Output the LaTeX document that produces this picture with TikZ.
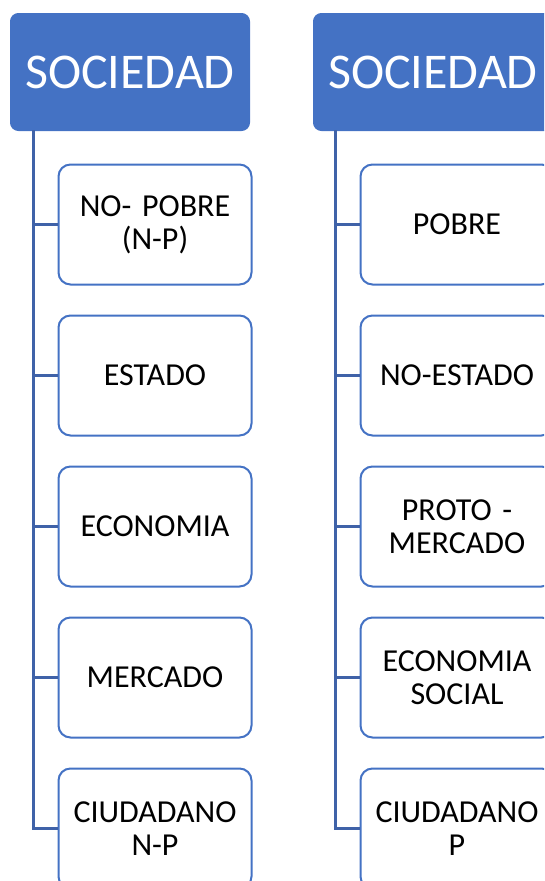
\documentclass[tikz,border=0pt]{standalone}
\usepackage{fontspec}
\setmainfont{Carlito}
\definecolor{hdr}{HTML}{4472C4}
\definecolor{conn}{HTML}{3F62A8}
\begin{document}
\begin{tikzpicture}[x=1pt,y=-1pt,
  header/.style={draw=hdr,fill=hdr,rounded corners=8pt,line width=1pt,minimum width=239pt,minimum height=117pt,anchor=north west,inner sep=0pt,text=white,font=\fontsize{50}{60}\selectfont},
  item/.style={draw=hdr,fill=white,rounded corners=12pt,line width=2pt,minimum width=193pt,minimum height=120pt,anchor=north west,inner sep=0pt,text width=190pt,align=center,font=\fontsize{32}{33}\selectfont},
  link/.style={draw=conn,line width=2.5pt}]
\useasboundingbox (0,0) rectangle (544,881);
\clip (0,0) rectangle (544,881);
% left column
\node[header] (h1) at (10,13) {SOCIEDAD};
\coordinate (l1) at (33.5,130);
\node[item] (a1) at (57.5,163.5) {NO- POBRE\\(N-P)};
\node[item] (a2) at (57.5,314.5) {ESTADO};
\node[item] (a3) at (57.5,465.5) {ECONOMIA};
\node[item] (a4) at (57.5,616.5) {MERCADO};
\node[item] (a5) at (57.5,767.5) {CIUDADANO\\N-P};
\draw[link] (l1) |- (a5.west);
\foreach \n in {a1,a2,a3,a4}{\draw[link] (l1 |- \n.west) -- (\n.west);}
% right column
\node[header] (h2) at (313,13) {SOCIEDAD};
\coordinate (l2) at (335.5,130);
\node[item] (b1) at (359.5,163.5) {POBRE};
\node[item] (b2) at (359.5,314.5) {NO-ESTADO};
\node[item] (b3) at (359.5,465.5) {PROTO -\\MERCADO};
\node[item] (b4) at (359.5,616.5) {ECONOMIA\\SOCIAL};
\node[item] (b5) at (359.5,767.5) {CIUDADANO\\P};
\draw[link] (l2) |- (b5.west);
\foreach \n in {b1,b2,b3,b4}{\draw[link] (l2 |- \n.west) -- (\n.west);}
\end{tikzpicture}
\end{document}
